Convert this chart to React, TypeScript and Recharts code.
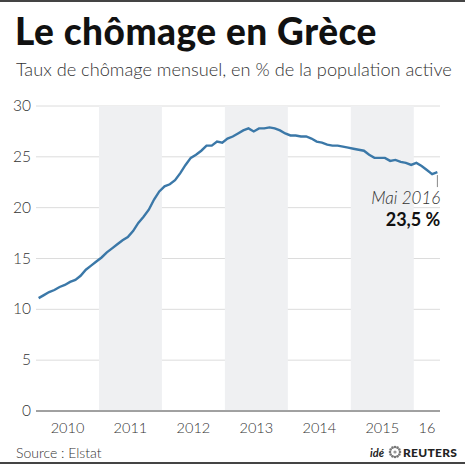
import React from "react";
import {
  LineChart,
  Line,
  XAxis,
  YAxis,
  CartesianGrid,
  ReferenceArea,
} from "recharts";

// Monthly unemployment rate in Greece (%), January 2010 – May 2016
const rates2010 = [11.1, 11.4, 11.7, 11.9, 12.2, 12.4, 12.7, 12.9, 13.3, 13.9, 14.3, 14.7];
const rates2011 = [15.1, 15.6, 16.0, 16.4, 16.8, 17.1, 17.7, 18.5, 19.1, 19.8, 20.8, 21.6];
const rates2012 = [22.1, 22.3, 22.7, 23.4, 24.2, 24.9, 25.2, 25.6, 26.1, 26.1, 26.5, 26.4];
const rates2013 = [26.8, 27.0, 27.3, 27.6, 27.8, 27.5, 27.8, 27.8, 27.9, 27.8, 27.6, 27.3];
const rates2014 = [27.1, 27.1, 27.0, 27.0, 26.8, 26.5, 26.4, 26.2, 26.1, 26.1, 26.0, 25.9];
const rates2015 = [25.8, 25.7, 25.6, 25.2, 24.9, 24.9, 24.9, 24.6, 24.7, 24.5, 24.4, 24.2];
const rates2016 = [24.4, 24.1, 23.7, 23.3, 23.5];

const firstYear = 2010;
const ratesByYear = [rates2010, rates2011, rates2012, rates2013, rates2014, rates2015, rates2016];

const yearTicks = [2010, 2011, 2012, 2013, 2014, 2015, 2016];
const yearLabels = ["2010", "2011", "2012", "2013", "2014", "2015", "16"];
const shadedYears = [2011, 2013, 2015];
const valueTicks = [0, 5, 10, 15, 20, 25, 30];
const lastPointLabel = "Mai 2016";

const data = ratesByYear.flatMap((vals, yi) =>
  vals.map((rate, m) => ({ t: firstYear + yi + (m + 0.5) / 12, rate }))
);
const monthCount = data.length;
const xMax = firstYear + monthCount / 12;

// x position of each year label: middle of the (possibly partial) year
const labelPos = yearTicks.map((y) => (Math.min(y + 1, xMax) + y) / 2);

const FONT = "Lato, 'Noto Sans', sans-serif";
const LINE_COLOR = "#3b78a8";

const YTick = (props: any) => {
  const { y, payload } = props;
  return (
    <text x={31} y={y + 5} textAnchor="end" fontFamily={FONT} fontSize={15.5} fontWeight={300} fill="#333">
      {payload.value}
    </text>
  );
};

const XTick = (props: any) => {
  const { x, y, payload } = props;
  const idx = labelPos.findIndex((p) => Math.abs(p - payload.value) < 1e-6);
  return (
    <text x={x} y={y + 14} textAnchor="middle" fontFamily={FONT} fontSize={14.5} fontWeight={300} fill="#333">
      {idx >= 0 ? yearLabels[idx] : ""}
    </text>
  );
};

const EndLabel = (props: any) => {
  const { x, y, index, value } = props;
  if (index !== monthCount - 1) return null;
  const txt = value.toFixed(1).replace(".", ",") + " %";
  return (
    <g>
      <line x1={x} x2={x} y1={y + 3} y2={y + 15} stroke="#888" strokeWidth={1} />
      <text x={x + 3} y={y + 32} textAnchor="end" fontFamily={FONT} fontSize={17} fontStyle="italic" fontWeight={300} fill="#333">
        {lastPointLabel}
      </text>
      <text x={x + 3} y={y + 54} textAnchor="end" fontFamily={FONT} fontSize={18} fontWeight={700} fill="#111">
        {txt}
      </text>
    </g>
  );
};

export default function App() {
  return (
    <div style={{ position: "absolute", left: 0, top: 0, width: 465, height: 465, background: "#fff" }}>
      <LineChart
        width={465}
        height={465}
        data={data}
        margin={{ top: 106, right: 25, left: 0, bottom: 0 }}
      >
        {shadedYears.map((y) => (
          <ReferenceArea key={y} x1={y} x2={y + 1} y1={0} y2={30} fill="#eff0f2" fillOpacity={1} stroke="none" ifOverflow="hidden" />
        ))}
        <CartesianGrid vertical={false} stroke="#dcdcdc" strokeWidth={1} />
        <XAxis
          dataKey="t"
          type="number"
          domain={[firstYear, xMax]}
          ticks={labelPos}
          tick={<XTick />}
          tickLine={false}
          axisLine={{ stroke: "#555", strokeWidth: 1.2 }}
          height={54}
          interval={0}
        />
        <YAxis
          domain={[0, 30]}
          ticks={valueTicks}
          tick={<YTick />}
          tickLine={false}
          axisLine={false}
          width={36}
          interval={0}
        />
        <Line
          type="linear"
          dataKey="rate"
          stroke={LINE_COLOR}
          strokeWidth={2.4}
          dot={false}
          isAnimationActive={false}
          label={<EndLabel />}
        />
      </LineChart>
      <svg width={465} height={465} style={{ position: "absolute", left: 0, top: 0, pointerEvents: "none" }}>
        <rect x={0} y={0} width={465} height={2} fill="#444" />
        <rect x={0} y={462} width={465} height={2} fill="#444" />
        <text x={15} y={45} fontFamily={FONT} fontSize={37} fontWeight={900} letterSpacing={0.5} fill="#111">
          Le chômage en Grèce
        </text>
        <text x={16} y={76} fontFamily={FONT} fontSize={18.2} fontWeight={300} fill="#333">
          Taux de chômage mensuel, en % de la population active
        </text>
        <text x={16} y={458} fontFamily={FONT} fontSize={14} fontWeight={300} fill="#333">
          Source : Elstat
        </text>
        <text x={370} y={457} fontFamily={FONT} fontSize={11} fontStyle="italic" fontWeight={700} fill="#222">
          idé
        </text>
        <g transform="translate(395,452)">
          {Array.from({ length: 12 }).map((_, i) => {
            const a = (i / 12) * Math.PI * 2;
            return <circle key={i} cx={Math.cos(a) * 5} cy={Math.sin(a) * 5} r={1.3} fill="#777" />;
          })}
          <circle cx={0} cy={0} r={1.6} fill="#999" />
        </g>
        <text x={403} y={457} fontFamily={FONT} fontSize={12} fontWeight={900} fill="#222" letterSpacing={0.3}>
          REUTERS
        </text>
      </svg>
    </div>
  );
}
